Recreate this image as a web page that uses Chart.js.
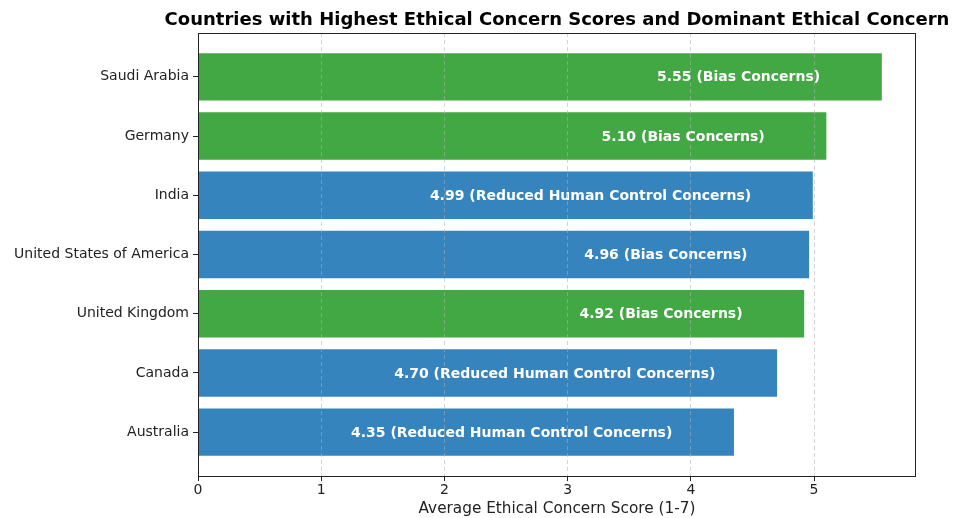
<!DOCTYPE html>
<html>
<head>
<meta charset="utf-8">
<script src="https://cdn.jsdelivr.net/npm/chart.js@4/dist/chart.umd.min.js"></script>
<style>
  html, body { margin:0; padding:0; background:#fff; }
  #wrap { width:957px; height:518px; }
</style>
</head>
<body>
<div id="wrap"><canvas id="chart" width="957" height="518"></canvas></div>
<script>
// data, top to bottom
const countries = ['Saudi Arabia','Germany','India','United States of America','United Kingdom','Canada','Australia'];
const scores    = [5.55, 5.10, 4.99, 4.96, 4.92, 4.70, 4.35];
const concerns  = ['Bias Concerns','Bias Concerns','Reduced Human Control Concerns','Bias Concerns','Bias Concerns','Reduced Human Control Concerns','Reduced Human Control Concerns'];
const barColors = ['#42a843','#42a843','#3584bd','#3584bd','#42a843','#3584bd','#3584bd'];
const xTicks    = [0, 1, 2, 3, 4, 5];

const TITLE = 'Countries with Highest Ethical Concern Scores and Dominant Ethical Concern';

Chart.defaults.font.family = '"DejaVu Sans", sans-serif';
Chart.defaults.color = '#222';

// title over the plot area + frame + labels inside the bars
const extras = {
  id: 'extras',
  afterDatasetsDraw(chart) {
    const { ctx, scales:{ x } } = chart;
    const bars = chart.getDatasetMeta(0).data;
    ctx.save();
    ctx.fillStyle = '#fff';
    ctx.font = 'bold 14px "DejaVu Sans"';
    ctx.textAlign = 'right';
    ctx.textBaseline = 'middle';
    bars.forEach((b, i) => {
      const t = scores[i].toFixed(2) + ' (' + concerns[i] + ')';
      ctx.fillText(t, x.getPixelForValue(scores[i] - 0.5), b.y + 1);
    });
    ctx.restore();
  },
  afterDraw(chart) {
    const { ctx, chartArea:a } = chart;
    ctx.save();
    ctx.strokeStyle = '#222';
    ctx.lineWidth = 1;
    ctx.strokeRect(a.left + 0.5, a.top + 0.5, a.right - a.left - 1, a.bottom - a.top);
    ctx.fillStyle = '#000';
    ctx.font = 'bold 18px "DejaVu Sans"';
    ctx.textAlign = 'center';
    ctx.textBaseline = 'middle';
    ctx.fillText(TITLE, (a.left + a.right) / 2, 20);
    ctx.restore();
  }
};

new Chart(document.getElementById('chart'), {
  type: 'bar',
  data: {
    datasets: [{
      data: scores.map((v, i) => ({ x: v, y: i })),
      backgroundColor: barColors,
      borderWidth: 0,
      barPercentage: 0.8,
      categoryPercentage: 1
    }]
  },
  plugins: [extras],
  options: {
    indexAxis: 'y',
    responsive: false,
    animation: false,
    layout: { padding: { top: 33, right: 41, left: 0, bottom: 0 } },
    plugins: { legend: { display: false }, tooltip: { enabled: false }, title: { display: false } },
    scales: {
      x: {
        type: 'linear',
        min: 0,
        max: 5.8275,
        offset: false,
        afterFit: s => { s.height = 42; },
        afterBuildTicks: s => { s.ticks = xTicks.map(v => ({ value: v })); },
        ticks: { font: { size: 14 }, color: '#222', padding: 1, includeBounds: false },
        grid: { color: 'rgba(176,176,176,0.55)', z: 1, offset: false, tickLength: 5, tickColor: '#222', tickBorderDash: [] },
        border: { display: false, dash: [4, 3] },
        title: { display: true, text: 'Average Ethical Concern Score (1-7)', font: { size: 15.3 }, color: '#222', padding: { top: 1, bottom: 0 } }
      },
      y: {
        type: 'linear',
        reverse: true,
        min: -0.74,
        max: 6.74,
        offset: false,
        afterFit: s => { s.width = 198; },
        afterBuildTicks: s => { s.ticks = countries.map((_, i) => ({ value: i })); },
        ticks: { callback: v => countries[v], font: { size: 14 }, color: '#222', padding: 4 },
        grid: { drawOnChartArea: false, offset: false, tickLength: 5, tickColor: '#222' },
        border: { display: false }
      }
    }
  }
});
</script>
</body>
</html>
